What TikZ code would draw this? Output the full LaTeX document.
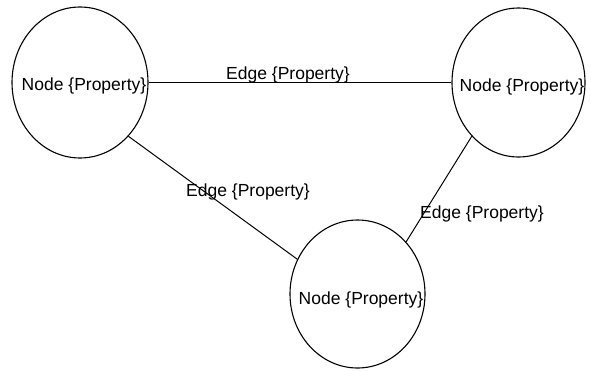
\documentclass[tikz,border=0pt]{standalone}
\usepackage{fontspec}
\setmainfont{Liberation Sans}
\usetikzlibrary{shapes.geometric}
\begin{document}
\begin{tikzpicture}[x=1pt,y=-1pt,
  ell/.style={draw, ellipse, line width=1.1pt, inner sep=0pt},
  txt/.style={inner sep=0pt, font=\fontsize{17.5}{20}\selectfont},
  conn/.style={draw, line width=1pt}]
\useasboundingbox (0,0) rectangle (591,370);
\node[ell, minimum width=136, minimum height=151] (L) at (80,82.5) {};
\node[ell, minimum width=133, minimum height=149] (R) at (518.5,82.5) {};
\node[ell, minimum width=135, minimum height=148] (B) at (357.5,294) {};
\node[txt] (Lt) at (84,86) {Node \{Property\}};
\node[txt] (Rt) at (522,87) {Node \{Property\}};
\node[txt] (Bt) at (361,300) {Node \{Property\}};
\draw[conn] (L.east) -- (R.west);
\draw[conn] (L.-48) -- (B.150);
\draw[conn] (R.-131) -- (B.47);
\node[txt] (e1) at (288,75) {Edge \{Property\}};
\node[txt] (e2) at (248,192) {Edge \{Property\}};
\node[txt] (e3) at (482,214) {Edge \{Property\}};
\end{tikzpicture}
\end{document}
